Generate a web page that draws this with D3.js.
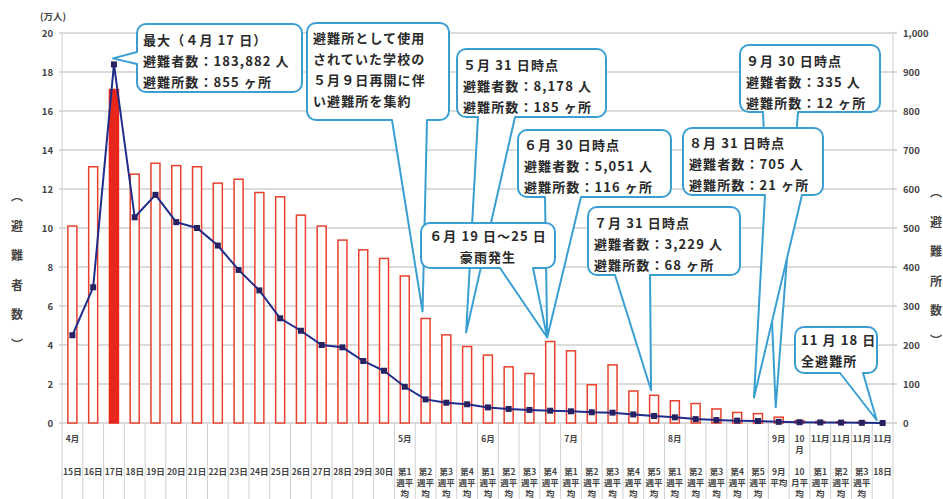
<!DOCTYPE html>
<html lang="ja">
<head>
<meta charset="UTF-8">
<title>避難者数・避難所数の推移</title>
<script src="https://d3js.org/d3.v7.min.js"></script>
<style>
  body { margin: 0; background: #fff; }
  svg { display: block; font-family: "Noto Sans CJK JP", "Noto Sans", sans-serif; }
  .grid { stroke: #cfcfcf; stroke-width: 1.3; }
  .vline { stroke: #cfcfcf; stroke-width: 1; }
  .tick-label { font-size: 9.5px; fill: #444; font-weight: bold; }
  .cat-label { font-size: 8.5px; fill: #444; font-weight: bold; }
  .side-label { font-size: 12px; fill: #444; font-weight: bold; }
  .bar { fill: #fff; stroke: #e8402d; stroke-width: 1.5; }
  .bar.peak { fill: #e8261b; stroke: #e8261b; }
  .evac-line { fill: none; stroke: #1f2c8a; stroke-width: 2; }
  .marker { fill: #262262; }
  .callout-box { fill: #fff; stroke: #3a9fd0; stroke-width: 2; stroke-linejoin: round; }
  .callout-text { font-size: 13px; fill: #2a2a2a; letter-spacing: 1.1px; font-weight: bold; }
</style>
</head>
<body>
<svg id="chart" width="943" height="499"></svg>
<script>
// x categories (bottom row) and month row above them
const categories = [
  "15日","16日","17日","18日","19日","20日","21日","22日","23日","24日",
  "25日","26日","27日","28日","29日","30日",
  "第1\n週平\n均","第2\n週平\n均","第3\n週平\n均","第4\n週平\n均",
  "第1\n週平\n均","第2\n週平\n均","第3\n週平\n均","第4\n週平\n均",
  "第1\n週平\n均","第2\n週平\n均","第3\n週平\n均","第4\n週平\n均","第5\n週平\n均",
  "第1\n週平\n均","第2\n週平\n均","第3\n週平\n均","第4\n週平\n均","第5\n週平\n均",
  "9月\n平均","10\n月平\n均",
  "第1\n週平\n均","第2\n週平\n均","第3\n週平\n均","18日"
];
const monthRow = [
  "4月","","","","","","","","","","","","","","","",
  "5月","","","",
  "6月","","","",
  "7月","","","","",
  "8月","","","","",
  "9月","10\n月",
  "11月","11月","11月","11月"
];

// 避難者数（万人） - line, left axis
const evacuees = [
  4.5, 6.96, 18.39, 10.55, 11.7, 10.3, 10.0, 9.1, 7.85, 6.8,
  5.37, 4.73, 4.0, 3.88, 3.18, 2.68,
  1.86, 1.21, 1.04, 0.96,
  0.8, 0.72, 0.67, 0.63,
  0.6, 0.55, 0.53, 0.44, 0.36,
  0.29, 0.2, 0.15, 0.12, 0.1,
  0.06, 0.04,
  0.03, 0.02, 0.01, 0
];

// 避難所数 - bars, right axis
const shelters = [
  505, 657, 855, 638, 666, 660, 657, 615, 625, 591,
  580, 533, 505, 469, 444, 422,
  377, 268, 226, 196,
  174, 144, 127, 209,
  185, 98, 149, 82, 71,
  57, 50, 36, 27, 24,
  15, 6,
  4, 3, 2, 0
];

const leftTicks = d3.range(0, 21, 2);
const rightTicks = d3.range(0, 1001, 100);

// callout annotations: text, box, tail base on a side, tip anchored to a data point
const callouts = [
  { lines: ["最大（４月 17 日）", "避難者数：183,882 人", "避難所数：855 ヶ所"],
    box: [137, 24, 165, 68], ty: 16, side: "left", base: [52, 64], idx: 2, on: "line", dx: -1, dy: -6 },
  { lines: ["避難所として使用", "されていた学校の", "５月９日再開に伴", "い避難所を集約"],
    box: [307, 23, 142, 97], ty: 15, side: "bottom", base: [392, 427], idx: 17, on: "bar", dx: -3, dy: -7 },
  { lines: ["５月 31 日時点", "避難者数：8,178 人", "避難所数：185 ヶ所"],
    box: [457, 49, 149, 68], ty: 16, side: "bottom", base: [478, 515], idx: 19, on: "bar", dx: -1, dy: -14 },
  { lines: ["６月 30 日時点", "避難者数：5,051 人", "避難所数：116 ヶ所"],
    box: [518, 130, 153, 67], ty: 15, side: "bottom", base: [545, 581], idx: 23, on: "bar", dx: -3, dy: -4 },
  { lines: ["６月 19 日～25 日", "豪雨発生"], center: true,
    box: [421, 223, 134, 45], ty: 13, side: "bottom", base: [500, 533], idx: 23, on: "bar", dx: -3, dy: -4 },
  { lines: ["７月 31 日時点", "避難者数：3,229 人", "避難所数：68 ヶ所"],
    box: [588, 207, 152, 68], ty: 16, side: "bottom", base: [615, 650], idx: 28, on: "bar", dx: -3, dy: -5 },
  { lines: ["９月 30 日時点", "避難者数：335 人", "避難所数：12 ヶ所"],
    box: [740, 45, 140, 67], ty: 16, side: "bottom", base: [763, 798], idx: 34, on: "bar", dx: -3, dy: -10 },
  { lines: ["８月 31 日時点", "避難者数：705 人", "避難所数：21 ヶ所"],
    box: [683, 128, 140, 67], ty: 15, side: "bottom", base: [765, 802], idx: 33, on: "bar", dx: -4, dy: -16 },
  { lines: ["11 月 18 日", "全避難所"],
    box: [795, 327, 82, 46], ty: 13, side: "bottom", base: [840, 863], idx: 39, on: "line", dx: -6, dy: -3 }
];

const svg = d3.select("#chart");
const plotL = 62, plotR = 893, plotT = 33, plotB = 423, svgH = 499;

const x = d3.scaleBand().domain(d3.range(categories.length)).range([plotL, plotR]);
const yL = d3.scaleLinear().domain([0, 20]).range([plotB, plotT]);
const yR = d3.scaleLinear().domain([0, 1000]).range([plotB, plotT]);
const cx = i => x(i) + x.bandwidth() / 2;

// horizontal gridlines
svg.append("g").selectAll("line").data(leftTicks).join("line")
  .attr("class", "grid")
  .attr("x1", plotL - 3).attr("x2", plotR + 4)
  .attr("y1", d => yL(d)).attr("y2", d => yL(d));

// axis lines
svg.append("line").attr("class", "vline").attr("x1", plotL).attr("x2", plotL).attr("y1", plotT).attr("y2", svgH);
svg.append("line").attr("class", "vline").attr("x1", plotR).attr("x2", plotR).attr("y1", plotT).attr("y2", svgH);

// category separators below the axis
svg.append("g").selectAll("line").data(d3.range(1, categories.length)).join("line")
  .attr("class", "vline")
  .attr("x1", d => x(d)).attr("x2", d => x(d))
  .attr("y1", plotB).attr("y2", svgH);

// tick labels
svg.append("g").selectAll("text").data(leftTicks).join("text")
  .attr("class", "tick-label")
  .attr("x", 53).attr("y", d => yL(d) + 3.5)
  .attr("text-anchor", "end")
  .text(d => d);
svg.append("g").selectAll("text").data(rightTicks).join("text")
  .attr("class", "tick-label")
  .attr("x", 903).attr("y", d => yR(d) + 3.5)
  .text(d3.format(","));

svg.append("text").attr("class", "tick-label").attr("x", 40).attr("y", 20).text("(万人)");

// vertical axis titles
function sideLabel(chars, xPos, y0) {
  svg.append("g").selectAll("text").data(chars).join("text")
    .attr("class", "side-label")
    .attr("x", xPos).attr("y", (d, i) => y0 + i * 29.5)
    .attr("text-anchor", "middle")
    .text(d => d);
}
sideLabel(["︵", "避", "難", "者", "数", "︶"], 17, 201);
sideLabel(["︵", "避", "難", "所", "数", "︶"], 936, 197);

// category labels
function multiLine(g, str, xPos, y0, lh) {
  const t = g.append("text").attr("class", "cat-label").attr("text-anchor", "middle");
  str.split("\n").forEach((s, k) => {
    t.append("tspan").attr("x", xPos).attr("y", y0 + k * lh).text(s);
  });
}
const labG = svg.append("g");
categories.forEach((c, i) => multiLine(labG, c, cx(i), 475, 11));
monthRow.forEach((m, i) => { if (m) multiLine(labG, m, cx(i), 442, 11); });

// bars
const bw = 9;
svg.append("g").selectAll("rect").data(shelters).join("rect")
  .attr("class", (d, i) => i === 2 ? "bar peak" : "bar")
  .attr("x", (d, i) => cx(i) - bw / 2)
  .attr("width", bw)
  .attr("y", d => yR(d))
  .attr("height", d => plotB - yR(d));

// line + markers
const line = d3.line().x((d, i) => cx(i)).y(d => yL(d));
svg.append("path").datum(evacuees).attr("class", "evac-line").attr("d", line);
svg.append("g").selectAll("rect").data(evacuees).join("rect")
  .attr("class", "marker")
  .attr("x", (d, i) => cx(i) - 3).attr("y", d => yL(d) - 3)
  .attr("width", 6).attr("height", 6);

// callouts
function calloutPath(c, tx, ty) {
  const [bx, by, w, h] = c.box, r = 9;
  const [a, b] = c.base;
  let p = `M${bx + r},${by}`;
  p += `L${bx + w - r},${by}A${r},${r} 0 0 1 ${bx + w},${by + r}`;
  p += `L${bx + w},${by + h - r}A${r},${r} 0 0 1 ${bx + w - r},${by + h}`;
  if (c.side === "bottom") p += `L${b},${by + h}L${tx},${ty}L${a},${by + h}`;
  p += `L${bx + r},${by + h}A${r},${r} 0 0 1 ${bx},${by + h - r}`;
  if (c.side === "left") p += `L${bx},${b}L${tx},${ty}L${bx},${a}`;
  p += `L${bx},${by + r}A${r},${r} 0 0 1 ${bx + r},${by}Z`;
  return p;
}

callouts.forEach(c => {
  const tx = cx(c.idx) + c.dx;
  const ty = (c.on === "line" ? yL(evacuees[c.idx]) : yR(shelters[c.idx])) + c.dy;
  const g = svg.append("g");
  g.append("path").attr("class", "callout-box").attr("d", calloutPath(c, tx, ty));
  const [bx, by, w] = c.box;
  c.lines.forEach((s, k) => {
    g.append("text")
      .attr("class", "callout-text")
      .attr("x", c.center ? bx + w / 2 : bx + 6)
      .attr("y", by + c.ty + 4.5 + k * 21)
      .attr("text-anchor", c.center ? "middle" : "start")
      .text(s);
  });
});
</script>
</body>
</html>
